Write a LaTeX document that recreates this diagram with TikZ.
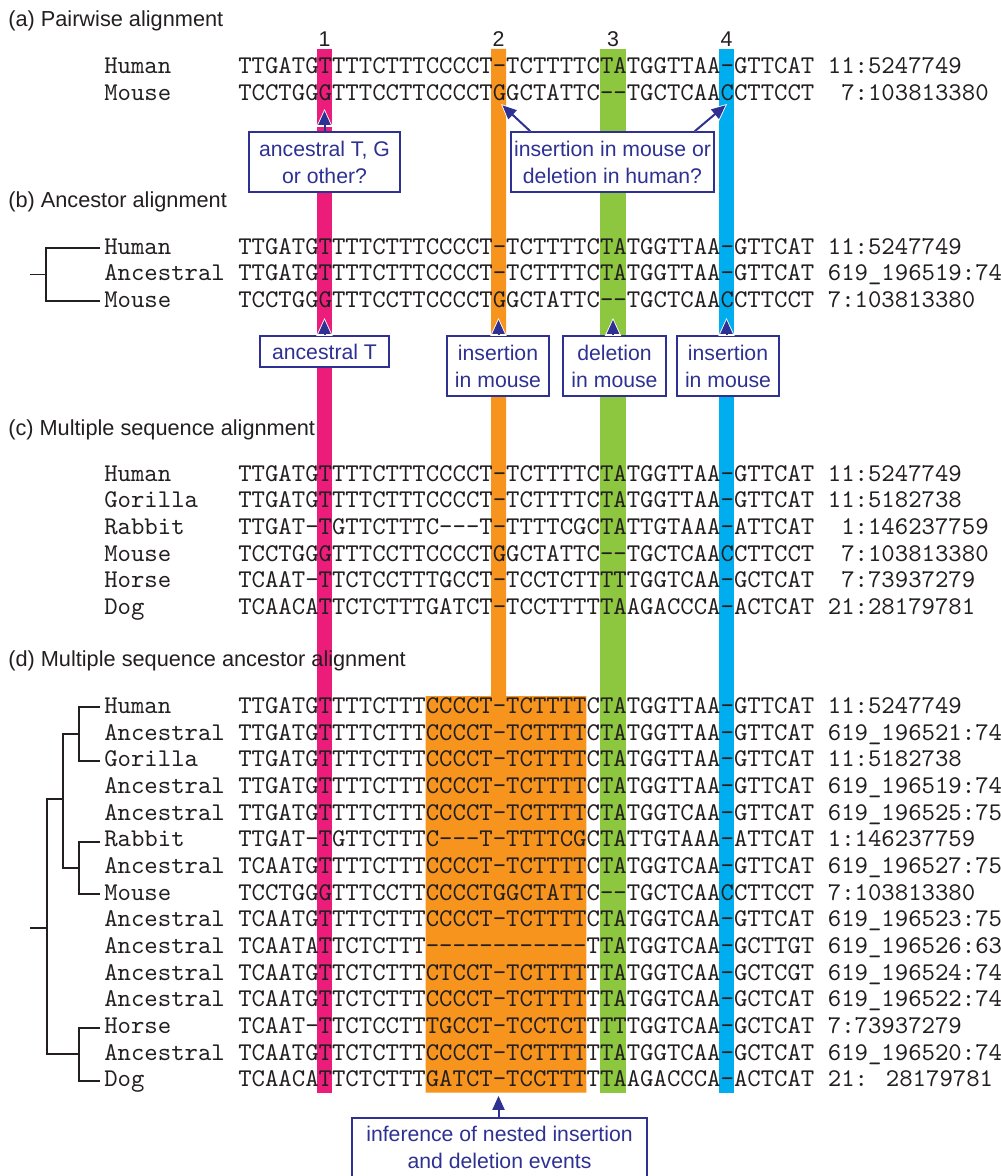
\documentclass[tikz,border=0pt]{standalone}
\usepackage{fontspec}
\newfontfamily\labfont{Liberation Sans}
\newfontfamily\seqfont{lmmono10-regular.otf}
\usetikzlibrary{arrows.meta,calc}
\definecolor{pinkbar}{HTML}{EC1C7A}
\definecolor{orangebar}{HTML}{F7941D}
\definecolor{greenbar}{HTML}{8DC63F}
\definecolor{bluebar}{HTML}{00AEEF}
\definecolor{navy}{HTML}{2E3192}
\definecolor{ink}{HTML}{231F20}
\newcommand{\seqrow}[6]{%
  \node[seqtxt] (#1n) at (104,#2) {#3};
  \node[seqtxt] (#1s) at (238,#2) {#4};
  \node[seqtxt] (#1c) at ({238+13.4*#5},#2) {#6};
}
\begin{document}
\begin{tikzpicture}[x=0.75pt,y=-0.75pt,
  seqtxt/.style={anchor=base west, inner sep=0pt, text=ink, font=\seqfont\fontsize{19.14pt}{22pt}\selectfont},
  lab/.style={anchor=base west, inner sep=0pt, text=ink, font=\labfont\fontsize{16.3pt}{19pt}\selectfont},
  num/.style={anchor=base, inner sep=0pt, text=ink, font=\labfont\fontsize{16pt}{19pt}\selectfont},
  box/.style={draw=navy, line width=1.2pt, fill=white, text=navy, align=center, inner sep=0pt, font=\labfont\fontsize{15.9pt}{20.25pt}\selectfont},
  boxtext/.style={text=navy, align=center, inner sep=0pt, font=\labfont\fontsize{15.9pt}{20.25pt}\selectfont},
  arr/.style={draw=navy, line width=1.5pt,
    preaction={draw=white, line width=1.5pt, -{Triangle[length=13.5pt,width=12pt]}},
    -{Triangle[length=10.5pt,width=9pt,sep=1.4pt]}},
  tree/.style={draw=ink, line width=1.4pt}]
\useasboundingbox (0,0) rectangle (1000,1176);
\fill[white] (0,0) rectangle (1000,1176);

% coloured columns
\fill[pinkbar] (317,49) rectangle (332,1092.7);
\fill[greenbar] (600,49) rectangle (626,1092.7);
\fill[bluebar] (719,49) rectangle (734,1092.7);
\fill[orangebar] (491,49) -- (506,49) -- (506,696) -- (586.4,696) -- (586.4,1092.7)
  -- (425.6,1092.7) -- (425.6,696) -- (491,696) -- cycle;

% section labels and column numbers
\node[lab] (la) at (8,26.7) {(a) Pairwise alignment};
\node[lab] (lb) at (8,208) {(b) Ancestor alignment};
\node[lab] (lc) at (8,435) {(c) Multiple sequence alignment};
\node[lab] (ld) at (8,666.7) {(d) Multiple sequence ancestor alignment};
\node[num] (n1) at (324.5,47) {1};
\node[num] (n2) at (498.5,47) {2};
\node[num] (n3) at (613,47) {3};
\node[num] (n4) at (726.5,47) {4};

% (a)
\seqrow{a1}{74}{Human}{TTGATGTTTTCTTTCCCCT-TCTTTTCTATGGTTAA-GTTCAT}{44}{11:5247749}
\seqrow{a2}{100.7}{Mouse}{TCCTGGGTTTCCTTCCCCTGGCTATTC--TGCTCAACCTTCCT}{45}{7:103813380}

% (b)
\seqrow{b1}{254.3}{Human}{TTGATGTTTTCTTTCCCCT-TCTTTTCTATGGTTAA-GTTCAT}{44}{11:5247749}
\seqrow{b2}{281}{Ancestral}{TTGATGTTTTCTTTCCCCT-TCTTTTCTATGGTTAA-GTTCAT}{44}{619\_196519:74}
\seqrow{b3}{307.3}{Mouse}{TCCTGGGTTTCCTTCCCCTGGCTATTC--TGCTCAACCTTCCT}{44}{7:103813380}

% (c)
\seqrow{c1}{481}{Human}{TTGATGTTTTCTTTCCCCT-TCTTTTCTATGGTTAA-GTTCAT}{44}{11:5247749}
\seqrow{c2}{507.7}{Gorilla}{TTGATGTTTTCTTTCCCCT-TCTTTTCTATGGTTAA-GTTCAT}{44}{11:5182738}
\seqrow{c3}{534.3}{Rabbit}{TTGAT-TGTTCTTTC---T-TTTTCGCTATTGTAAA-ATTCAT}{45}{1:146237759}
\seqrow{c4}{561}{Mouse}{TCCTGGGTTTCCTTCCCCTGGCTATTC--TGCTCAACCTTCCT}{45}{7:103813380}
\seqrow{c5}{587.7}{Horse}{TCAAT-TTCTCCTTTGCCT-TCCTCTTTTTGGTCAA-GCTCAT}{45}{7:73937279}
\seqrow{c6}{614.3}{Dog}{TCAACATTCTCTTTGATCT-TCCTTTTTAAGACCCA-ACTCAT}{44}{21:28179781}

% (d)
\seqrow{d1}{713.3}{Human}{TTGATGTTTTCTTTCCCCT-TCTTTTCTATGGTTAA-GTTCAT}{44}{11:5247749}
\seqrow{d2}{740}{Ancestral}{TTGATGTTTTCTTTCCCCT-TCTTTTCTATGGTTAA-GTTCAT}{44}{619\_196521:74}
\seqrow{d3}{766.6}{Gorilla}{TTGATGTTTTCTTTCCCCT-TCTTTTCTATGGTTAA-GTTCAT}{44}{11:5182738}
\seqrow{d4}{793.3}{Ancestral}{TTGATGTTTTCTTTCCCCT-TCTTTTCTATGGTTAA-GTTCAT}{44}{619\_196519:74}
\seqrow{d5}{820}{Ancestral}{TTGATGTTTTCTTTCCCCT-TCTTTTCTATGGTCAA-GTTCAT}{44}{619\_196525:75}
\seqrow{d6}{846.7}{Rabbit}{TTGAT-TGTTCTTTC---T-TTTTCGCTATTGTAAA-ATTCAT}{44}{1:146237759}
\seqrow{d7}{873.3}{Ancestral}{TCAATGTTTTCTTTCCCCT-TCTTTTCTATGGTCAA-GTTCAT}{44}{619\_196527:75}
\seqrow{d8}{900}{Mouse}{TCCTGGGTTTCCTTCCCCTGGCTATTC--TGCTCAACCTTCCT}{44}{7:103813380}
\seqrow{d9}{926.7}{Ancestral}{TCAATGTTTTCTTTCCCCT-TCTTTTCTATGGTCAA-GTTCAT}{44}{619\_196523:75}
\seqrow{d10}{953.3}{Ancestral}{TCAATATTCTCTTT------------TTATGGTCAA-GCTTGT}{44}{619\_196526:63}
\seqrow{d11}{980}{Ancestral}{TCAATGTTCTCTTTCTCCT-TCTTTTTTATGGTCAA-GCTCGT}{44}{619\_196524:74}
\seqrow{d12}{1006.7}{Ancestral}{TCAATGTTCTCTTTCCCCT-TCTTTTTTATGGTCAA-GCTCAT}{44}{619\_196522:74}
\seqrow{d13}{1033.3}{Horse}{TCAAT-TTCTCCTTTGCCT-TCCTCTTTTTGGTCAA-GCTCAT}{44}{7:73937279}
\seqrow{d14}{1060}{Ancestral}{TCAATGTTCTCTTTCCCCT-TCTTTTTTATGGTCAA-GCTCAT}{44}{619\_196520:74}
\seqrow{d15}{1086.7}{Dog}{TCAACATTCTCTTTGATCT-TCCTTTTTAAGACCCA-ACTCAT}{44}{21: 28179781}

% tree (b)
\coordinate (bh) at (100,248);
\coordinate (bm) at (100,301);
\coordinate (bn) at (46,274.5);
\coordinate (broot) at (30,274.5);
\draw[tree] (bh) -| (bn) |- (bm);
\draw[tree] (broot) -- (bn);

% tree (d)
\coordinate (thum) at (100,707.3);
\coordinate (tgor) at (100,760.7);
\coordinate (trab) at (100,841.7);
\coordinate (tmou) at (100,894);
\coordinate (thor) at (100,1027.7);
\coordinate (tdog) at (100,1081);
\coordinate (nhg) at (79.3,734);
\coordinate (nrm) at (79.3,868.3);
\coordinate (nhd) at (79.3,1054.3);
\coordinate (nx) at (63.3,799.3);
\coordinate (nroot) at (46.7,928.3);
\coordinate (stub) at (30,928.3);
\draw[tree] (thum) -| (nhg) |- (tgor);
\draw[tree] (trab) -| (nrm) |- (tmou);
\draw[tree] (thor) -| (nhd) |- (tdog);
\draw[tree] (nhg) -| (nx) |- (nrm);
\draw[tree] (nx) -| (nroot) |- (nhd);
\draw[tree] (stub) -- (nroot);

% boxes (a)
\node[box, minimum width=113.25pt, minimum height=45pt] (A1) at (324.5,162) {ancestral T, G\\or other?};
\node[box, minimum width=152.25pt, minimum height=45pt] (A2) at (612.5,162) {insertion in mouse or\\deletion in human?};
\coordinate (tA1) at (324.5,109);
\coordinate (tA2a) at (501,104);
\coordinate (tA2b) at (727,104);
\draw[arr] (A1.north) -- (tA1);
\draw[arr] ($(A2.north west)+(20,0)$) -- (tA2a);
\draw[arr] ($(A2.north east)+(-20,0)$) -- (tA2b);

% boxes (b)
\node[box, minimum width=96.75pt, minimum height=23.25pt] (B1) at (324.5,351.5) {ancestral T};
\node[box, minimum width=76.5pt, minimum height=45pt] (B2) at (498,366) {insertion\\in mouse};
\node[box, minimum width=77.25pt, minimum height=45pt] (B3) at (614.5,366) {deletion\\in mouse};
\node[box, minimum width=76.5pt, minimum height=45pt] (B4) at (728,366) {insertion\\in mouse};
\coordinate (tB1) at (324.5,318);
\coordinate (tB2) at (498.5,318);
\coordinate (tB3) at (613,318);
\coordinate (tB4) at (726.5,318);
\draw[arr] (tB1 |- B1.north) -- (tB1);
\draw[arr] (tB2 |- B2.north) -- (tB2);
\draw[arr] (tB3 |- B3.north) -- (tB3);
\draw[arr] (tB4 |- B4.north) -- (tB4);

% box (d)
\node[box, minimum width=221.25pt, minimum height=60pt] (D) at (499.5,1158) {};
\node[boxtext, anchor=north] (Dt) at (499.5,1126) {inference of nested insertion\\and deletion events};
\coordinate (tD) at (498.5,1094);
\draw[arr] (tD |- D.north) -- (tD);
\end{tikzpicture}
\end{document}
